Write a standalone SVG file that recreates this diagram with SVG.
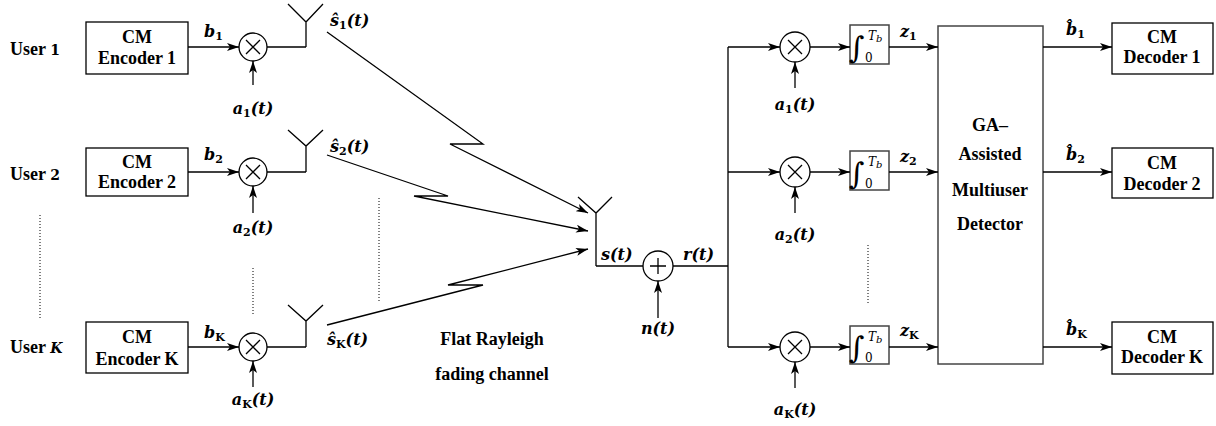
<svg xmlns="http://www.w3.org/2000/svg" width="1216" height="426" viewBox="0 0 1216 426">
<defs>
<marker id="ar" viewBox="0 0 12 8" refX="12" refY="4" markerWidth="12" markerHeight="8" markerUnits="userSpaceOnUse" orient="auto">
<path d="M0,0 L12,4 L0,8 L3,4 z" fill="#000"/>
</marker>
</defs>
<style>
.ln{stroke:#000;stroke-width:1.3;fill:none}
.box{fill:#fff;stroke:#000;stroke-width:1.3}
.gbox{fill:#fff;stroke:#444;stroke-width:1.5}
.t{font-family:'Liberation Serif','Times New Roman','DejaVu Serif',serif;font-weight:bold;font-size:18px;text-anchor:middle}
.u{font-family:'Liberation Serif','Times New Roman','DejaVu Serif',serif;font-weight:bold;font-size:18px}
.ud{font-family:'DejaVu Serif',serif;font-size:14px}
.m{font-family:'DejaVu Serif','Liberation Serif',serif;font-weight:bold;font-style:italic;font-size:16px}
.s{font-size:11px;font-style:normal}
.c{text-anchor:middle}
.dot{stroke:#000;stroke-width:1;stroke-dasharray:1 2;fill:none}
.int{font-family:'DejaVu Serif',serif;font-size:30px}
.lim{font-family:'DejaVu Serif',serif;font-size:12px}
</style>
<rect width="1216" height="426" fill="#fff"/>

<g id="user1"><text class="u" x="10" y="55">User  <tspan class="ud">1</tspan></text></g>
<g id="user2"><text class="u" x="10" y="180">User  <tspan class="ud">2</tspan></text></g>
<g id="userK"><text class="u" x="10" y="353">User  <tspan class="ud" font-style="italic">K</tspan></text></g>

<g id="enc1"><rect class="box" x="86" y="22" width="102" height="52"/><text class="t" x="137" y="43">CM</text><text class="t" x="137" y="64">Encoder 1</text></g>
<g id="enc2"><rect class="box" x="86" y="148" width="102" height="48"/><text class="t" x="137" y="168">CM</text><text class="t" x="137" y="188">Encoder 2</text></g>
<g id="encK"><rect class="box" x="86" y="322" width="102" height="51"/><text class="t" x="137" y="343">CM</text><text class="t" x="137" y="365">Encoder K</text></g>

<g id="mul1"><circle class="ln" cx="253" cy="47" r="14"/><path class="ln" d="M246,40 L260,54 M260,40 L246,54"/></g>
<g id="mul2"><circle class="ln" cx="253" cy="172" r="14"/><path class="ln" d="M246,165 L260,179 M260,165 L246,179"/></g>
<g id="mulK"><circle class="ln" cx="253" cy="347" r="14"/><path class="ln" d="M246,340 L260,354 M260,340 L246,354"/></g>

<g id="ant1"><path class="ln" d="M288,4 L306,22 L323,4 M306,22 L306,47"/></g>
<g id="ant2"><path class="ln" d="M288,130 L306,146 L323,130 M306,146 L306,172"/></g>
<g id="antK"><path class="ln" d="M288,305 L306,321 L323,305 M306,321 L306,347"/></g>
<g id="antR"><path class="ln" d="M578,197 L596,213 L612,197 M596,213 L596,266"/></g>

<g id="add"><circle class="ln" cx="658" cy="266" r="15"/><path class="ln" d="M650,266 L666,266 M658,258 L658,274"/></g>

<g id="rmul1"><circle class="ln" cx="795" cy="47" r="15"/><path class="ln" d="M788,40 L802,54 M802,40 L788,54"/></g>
<g id="rmul2"><circle class="ln" cx="795" cy="172" r="15"/><path class="ln" d="M788,165 L802,179 M802,165 L788,179"/></g>
<g id="rmulK"><circle class="ln" cx="795" cy="347" r="15"/><path class="ln" d="M788,340 L802,354 M802,340 L788,354"/></g>

<g id="int1"><rect class="gbox" x="850" y="25" width="39" height="39"/><text class="int" x="849" y="58">∫</text><text class="lim" x="865" y="62">0</text><text class="lim" x="868" y="40" font-style="italic" font-size="13">T<tspan font-size="10" dy="2">b</tspan></text></g>
<g id="int2"><rect class="gbox" x="850" y="151" width="39" height="39"/><text class="int" x="849" y="184">∫</text><text class="lim" x="865" y="188">0</text><text class="lim" x="868" y="166" font-style="italic" font-size="13">T<tspan font-size="10" dy="2">b</tspan></text></g>
<g id="intK"><rect class="gbox" x="850" y="326" width="39" height="38"/><text class="int" x="849" y="358">∫</text><text class="lim" x="865" y="362">0</text><text class="lim" x="868" y="341" font-style="italic" font-size="13">T<tspan font-size="10" dy="2">b</tspan></text></g>

<g id="ga"><rect class="gbox" x="938" y="26" width="105" height="338"/>
<text class="t" x="990" y="131">GA–</text><text class="t" x="990" y="160">Assisted</text><text class="t" x="990" y="196">Multiuser</text><text class="t" x="990" y="230">Detector</text></g>

<g id="dec1"><rect class="box" x="1112" y="23" width="101" height="51"/><text class="t" x="1162" y="43">CM</text><text class="t" x="1162" y="63">Decoder 1</text></g>
<g id="dec2"><rect class="box" x="1112" y="148" width="101" height="50"/><text class="t" x="1162" y="169">CM</text><text class="t" x="1162" y="190">Decoder 2</text></g>
<g id="decK"><rect class="box" x="1112" y="322" width="101" height="52"/><text class="t" x="1162" y="343">CM</text><text class="t" x="1162" y="363">Decoder K</text></g>

<g id="connectors">
<path class="ln" marker-end="url(#ar)" d="M188,47 L239,47"/>
<path class="ln" marker-end="url(#ar)" d="M188,172 L239,172"/>
<path class="ln" marker-end="url(#ar)" d="M188,347 L239,347"/>
<path class="ln" marker-end="url(#ar)" d="M253,85 L253,61"/>
<path class="ln" marker-end="url(#ar)" d="M253,213 L253,186"/>
<path class="ln" marker-end="url(#ar)" d="M253,387 L253,361"/>
<path class="ln" d="M267,47 L306,47 M267,172 L306,172 M267,347 L306,347"/>
<path class="ln" marker-end="url(#ar)" d="M327,32 L483,144 L450,144 L588,213"/>
<path class="ln" marker-end="url(#ar)" d="M327,155 L448,196 L414,196 L588,231"/>
<path class="ln" marker-end="url(#ar)" d="M327,325 L483,285 L448,285 L588,249"/>
<path class="ln" d="M596,266 L643,266"/>
<path class="ln" marker-end="url(#ar)" d="M658,318 L658,281"/>
<path class="ln" d="M673,266 L728,266 M728,47 L728,347"/>
<path class="ln" marker-end="url(#ar)" d="M728,47 L780,47"/>
<path class="ln" marker-end="url(#ar)" d="M728,172 L780,172"/>
<path class="ln" marker-end="url(#ar)" d="M728,347 L780,347"/>
<path class="ln" marker-end="url(#ar)" d="M795,88 L795,62"/>
<path class="ln" marker-end="url(#ar)" d="M795,213 L795,187"/>
<path class="ln" marker-end="url(#ar)" d="M795,388 L795,362"/>
<path class="ln" marker-end="url(#ar)" d="M810,47 L850,47"/>
<path class="ln" marker-end="url(#ar)" d="M810,172 L850,172"/>
<path class="ln" marker-end="url(#ar)" d="M810,347 L850,347"/>
<path class="ln" marker-end="url(#ar)" d="M889,47 L938,47"/>
<path class="ln" marker-end="url(#ar)" d="M889,172 L938,172"/>
<path class="ln" marker-end="url(#ar)" d="M889,347 L938,347"/>
<path class="ln" marker-end="url(#ar)" d="M1043,47 L1112,47"/>
<path class="ln" marker-end="url(#ar)" d="M1043,172 L1112,172"/>
<path class="ln" marker-end="url(#ar)" d="M1043,347 L1112,347"/>
<path class="dot" d="M40,215 L40,318 M253,268 L253,315 M379,198 L379,302 M868,245 L868,303"/>
</g>

<g id="labels">
<text class="m" x="204" y="37">b<tspan class="s" dy="3">1</tspan></text>
<text class="m" x="204" y="160">b<tspan class="s" dy="3">2</tspan></text>
<text class="m" x="204" y="338">b<tspan class="s" dy="3">K</tspan></text>
<text class="m c" x="253" y="114">a<tspan class="s" dy="3">1</tspan><tspan dy="-3">(t)</tspan></text>
<text class="m c" x="253" y="233">a<tspan class="s" dy="3">2</tspan><tspan dy="-3">(t)</tspan></text>
<text class="m c" x="253" y="405">a<tspan class="s" dy="3">K</tspan><tspan dy="-3">(t)</tspan></text>
<text class="m" x="330" y="26">ŝ<tspan class="s" dy="3">1</tspan><tspan dy="-3">(t)</tspan></text>
<text class="m" x="330" y="152">ŝ<tspan class="s" dy="3">2</tspan><tspan dy="-3">(t)</tspan></text>
<text class="m" x="327" y="345">ŝ<tspan class="s" dy="3">K</tspan><tspan dy="-3">(t)</tspan></text>
<text class="m" x="601" y="260">s(t)</text>
<text class="m" x="683" y="260">r(t)</text>
<text class="m c" x="658" y="334">n(t)</text>
<text class="m c" x="795" y="110">a<tspan class="s" dy="3">1</tspan><tspan dy="-3">(t)</tspan></text>
<text class="m c" x="795" y="240">a<tspan class="s" dy="3">2</tspan><tspan dy="-3">(t)</tspan></text>
<text class="m c" x="795" y="415">a<tspan class="s" dy="3">K</tspan><tspan dy="-3">(t)</tspan></text>
<text class="m" x="900" y="37">z<tspan class="s" dy="3">1</tspan></text>
<text class="m" x="900" y="162">z<tspan class="s" dy="3">2</tspan></text>
<text class="m" x="900" y="336">z<tspan class="s" dy="3">K</tspan></text>
<text class="m" x="1066" y="35">b̂<tspan class="s" dy="3">1</tspan></text>
<text class="m" x="1066" y="160">b̂<tspan class="s" dy="3">2</tspan></text>
<text class="m" x="1066" y="335">b̂<tspan class="s" dy="3">K</tspan></text>
<text class="t" x="492" y="345">Flat Rayleigh</text>
<text class="t" x="492" y="380">fading channel</text>
</g>
</svg>
